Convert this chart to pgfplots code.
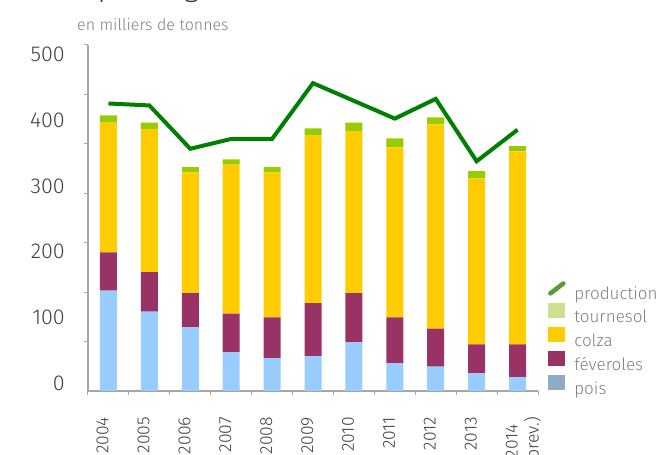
\documentclass[border=0pt]{standalone}
\usepackage{fontspec}
\setmainfont{Fira Sans}[UprightFont={* Light}]
\usepackage{pgfplots}
\usepackage{pgfplotstable}
\pgfplotsset{compat=1.18}

\definecolor{pois}{HTML}{99CCFF}
\definecolor{fev}{HTML}{993366}
\definecolor{colza}{HTML}{FFCC00}
\definecolor{tourn}{HTML}{99CC00}
\definecolor{prod}{HTML}{008000}
\definecolor{lprod}{HTML}{5A9A3C}
\definecolor{ltourn}{HTML}{CDE08E}
\definecolor{lpois}{HTML}{8EABC7}
\definecolor{axgray}{HTML}{A6A6A6}
\definecolor{txt}{HTML}{404040}
\definecolor{ltxt}{HTML}{808080}

\pgfplotstableread{
x pois fev colza tourn prod
0 153 58 198 11 438
1 121 60 218 10 435
2 97 52 184 8 369
3 59 59 227 8 384
4 50 62 221 8 384
5 53 81 255 11 469
6 74 75 247 13 442
7 42 70 259 14 415
8 37 58 311 11 445
9 27 44 253 11 350
10 21 50 294 8 398
}\data

\begin{document}
\begin{tikzpicture}
\begin{axis}[
  at={(0,0)}, anchor=south west,
  scale only axis, width=450pt, height=346pt,
  xmin=-0.5, xmax=10.5, ymin=0, ymax=527.1,
  ybar stacked, bar width=17pt,
  axis x line*=bottom, axis y line*=left,
  axis line style={axgray, line width=1.2pt, -},
  tick align=outside, major tick length=4pt,
  xtick={0,...,10},
  xticklabels={2004,2005,2006,2007,2008,2009,2010,2011,2012,2013,{\begin{tabular}[t]{@{}c@{}}2014\\(prev.)\end{tabular}}},
  xtick style={draw=none},
  ytick={0,100,...,500},
  ytick style={draw=none},
  extra x ticks={-0.5,0.5,...,10.5}, extra x tick labels={},
  extra x tick style={xtick style={draw=axgray, line width=1pt}},
  extra y ticks={75.3,150.6,225.9,301.2,376.5,451.8,527.1}, extra y tick labels={},
  extra y tick style={ytick style={draw=axgray, line width=1pt}},
  /pgf/number format/assume math mode=true,
  xticklabel style={font=\fontsize{17.5}{21}\selectfont, text=txt, rotate=90, anchor=base east, inner sep=0pt},
  xticklabel shift=22pt,
  yticklabel style={font=\fontsize{21.5}{24}\selectfont, text=txt, inner sep=0pt, yshift=8pt},
  yticklabel shift=19pt,
  legend style={at={(1.022,0.318)}, anchor=north west, draw=none, fill=none,
    font=\fontsize{17}{20}\selectfont, text=ltxt, row sep=0.5pt, inner sep=0pt,
    nodes={inner sep=2pt}},
  legend cell align=left,
]
\addlegendimage{legend image code/.code={\path[draw=none,fill=none] (0pt,0pt) rectangle (24pt,0pt); \draw[lprod, line width=4.5pt, line cap=round] (2pt,0pt) -- (15pt,10pt);}}
\addlegendentry{production}
\addlegendimage{legend image code/.code={\path[draw=none,fill=none] (0pt,0pt) rectangle (24pt,0pt); \fill[ltourn] (0pt,0pt) rectangle (16pt,14pt);}}
\addlegendentry{tournesol}
\addlegendimage{legend image code/.code={\path[draw=none,fill=none] (0pt,0pt) rectangle (24pt,0pt); \fill[colza] (0pt,0pt) rectangle (16pt,14pt);}}
\addlegendentry{colza}
\addlegendimage{legend image code/.code={\path[draw=none,fill=none] (0pt,0pt) rectangle (24pt,0pt); \fill[fev] (0pt,0pt) rectangle (16pt,14pt);}}
\addlegendentry{féveroles}
\addlegendimage{legend image code/.code={\path[draw=none,fill=none] (0pt,0pt) rectangle (24pt,0pt); \fill[lpois] (0pt,0pt) rectangle (16pt,14pt);}}
\addlegendentry{pois}
\addplot[fill=pois, draw=none, forget plot] table[x=x,y=pois]{\data};
\addplot[fill=fev, draw=none, forget plot] table[x=x,y=fev]{\data};
\addplot[fill=colza, draw=none, forget plot] table[x=x,y=colza]{\data};
\addplot[fill=tourn, draw=none, forget plot] table[x=x,y=tourn]{\data};
\end{axis}
\begin{axis}[
  at={(0,0)}, anchor=south west,
  scale only axis, width=450pt, height=346pt,
  xmin=-0.5, xmax=10.5, ymin=0, ymax=527.1,
  axis lines=none,
]
\addplot[prod, line width=4pt, no markers] table[x=x,y=prod]{\data};
\end{axis}
\node[anchor=west, inner sep=0pt, text=ltxt, font=\fontsize{16}{19}\selectfont] at (-11pt,366pt) {en milliers de tonnes};
\node[anchor=base west, inner sep=0pt, text=txt, font=\fontsize{30}{36}\selectfont] at (-53pt,394.5pt) {Oléoprotéagineux};
\pgfresetboundingbox
\path (-88pt,-64pt) rectangle (571pt,391pt);
\end{tikzpicture}
\end{document}
